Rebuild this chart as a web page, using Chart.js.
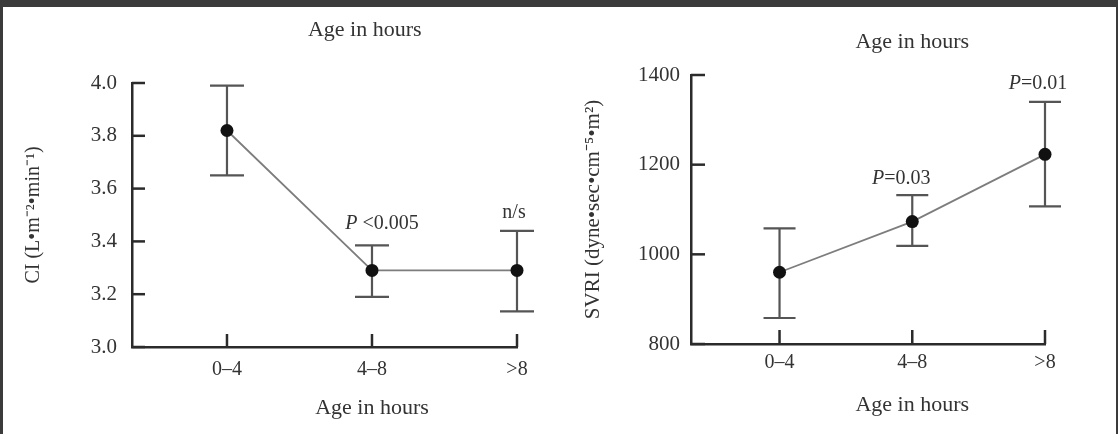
<!DOCTYPE html>
<html><head><meta charset="utf-8">
<script src="https://cdn.jsdelivr.net/npm/chart.js@4"></script>
<style>
html,body{margin:0;padding:0;background:#fff;}
body{width:1118px;height:434px;position:relative;overflow:hidden;}
#c1{position:absolute;left:0;top:0;}
#c2{position:absolute;left:560px;top:0;}
.bd{position:absolute;background:#3b3b3b;}
</style></head><body>
<canvas id="c1" width="560" height="434"></canvas>
<canvas id="c2" width="558" height="434"></canvas>
<div class="bd" style="left:0;top:0;width:1118px;height:7px"></div>
<div class="bd" style="left:0;top:0;width:3px;height:434px"></div>
<div class="bd" style="right:0;top:0;width:2px;height:434px"></div>
<script>
const categories = ['0–4', '4–8', '>8'];

const ciMean  = [3.82, 3.29, 3.29];
const ciUpper = [3.99, 3.385, 3.44];
const ciLower = [3.65, 3.19, 3.135];
const ciTicks = [3.0, 3.2, 3.4, 3.6, 3.8, 4.0];
const ciNotes = ['', 'P <0.005', 'n/s'];

const svriMean  = [960, 1073, 1223];
const svriUpper = [1058, 1132, 1340];
const svriLower = [858, 1019, 1107];
const svriTicks = [800, 1000, 1200, 1400];
const svriNotes = ['', 'P=0.03', 'P=0.01'];

const xTitle = 'Age in hours';
const ciTitle = 'CI (L•m⁻²•min⁻¹)';
const svriTitle = 'SVRI (dyne•sec•cm⁻⁵•m²)';

const FONT = "'Liberation Serif', 'Times New Roman', serif";
const AXIS = '#2b2b2b';
const TXT = '#333';

function decor(cfg) {
  const {upper, lower, notes, noteOff, tickLen, capHalf} = cfg;
  return {
    id: 'decor',
    beforeDatasetsDraw(chart) {
      const {ctx, scales: {x, y}} = chart;
      ctx.save();
      ctx.strokeStyle = AXIS; ctx.lineWidth = 2.5; ctx.lineCap = 'butt';
      y.ticks.forEach(t => {
        const py = y.getPixelForValue(t.value);
        ctx.beginPath(); ctx.moveTo(x.left, py); ctx.lineTo(x.left + tickLen, py); ctx.stroke();
      });
      x.ticks.forEach(t => {
        const px = x.getPixelForValue(t.value);
        ctx.beginPath(); ctx.moveTo(px, y.bottom); ctx.lineTo(px, y.bottom - tickLen); ctx.stroke();
      });
      ctx.strokeStyle = '#555'; ctx.lineWidth = 2.2;
      upper.forEach((u, i) => {
        const px = x.getPixelForValue(i), pu = y.getPixelForValue(u), pl = y.getPixelForValue(lower[i]);
        ctx.beginPath();
        ctx.moveTo(px, pu); ctx.lineTo(px, pl);
        ctx.moveTo(px - capHalf, pu); ctx.lineTo(px + capHalf, pu);
        ctx.moveTo(px - capHalf, pl); ctx.lineTo(px + capHalf, pl);
        ctx.stroke();
      });
      ctx.restore();
    },
    afterDatasetsDraw(chart) {
      const {ctx, scales: {x, y}, chartArea} = chart;
      ctx.save();
      ctx.fillStyle = TXT; ctx.textBaseline = 'middle'; ctx.textAlign = 'left';
      notes.forEach((n, i) => {
        if (!n) return;
        const cx = x.getPixelForValue(i) + noteOff[i].dx;
        const cy = y.getPixelForValue(upper[i]) - noteOff[i].dy;
        let pre = '', rest = n;
        if (n[0] === 'P') { pre = 'P'; rest = n.slice(1); }
        ctx.font = 'italic 20px ' + FONT;
        const w1 = ctx.measureText(pre).width;
        ctx.font = '20px ' + FONT;
        const w2 = ctx.measureText(rest).width;
        const sx = cx - (w1 + w2) / 2;
        ctx.font = 'italic 20px ' + FONT;
        ctx.fillText(pre, sx, cy);
        ctx.font = '20px ' + FONT;
        ctx.fillText(rest, sx + w1, cy);
      });
      // axis titles "Age in hours" (top and bottom)
      ctx.textAlign = 'center';
      ctx.font = '22px ' + FONT;
      ctx.fillText(xTitle, x.getPixelForValue(cfg.topTitleAt), chartArea.top - cfg.topTitleGap);
      ctx.fillText(xTitle, x.getPixelForValue(cfg.botTitleAt), chartArea.bottom + cfg.botTitleGap);
      ctx.restore();
    }
  };
}

function makeChart(id, cfg) {
  return new Chart(document.getElementById(id), {
    type: 'line',
    data: {
      datasets: [{
        data: cfg.mean.map((v, i) => ({x: i, y: v})),
        borderColor: '#7d7d7d', borderWidth: 1.8,
        pointRadius: 6.5, pointHoverRadius: 6.5,
        pointBackgroundColor: '#111', pointBorderColor: '#111', pointBorderWidth: 0,
        tension: 0, clip: false
      }]
    },
    options: {
      responsive: false, animation: false, events: [],
      layout: {padding: {left: 0, right: cfg.padRight, top: cfg.padTop, bottom: 0}},
      plugins: {legend: {display: false}, tooltip: {enabled: false}, title: {display: false}},
      scales: {
        x: {
          type: 'linear', min: cfg.xMin, max: 2,
          afterBuildTicks: s => { s.ticks = categories.map((c, i) => ({value: i})); },
          afterFit: s => { s.height = cfg.xHeight; },
          grid: {display: false, drawTicks: false},
          border: {display: true, color: AXIS, width: 2.5},
          ticks: {padding: cfg.xTickPad, color: TXT, font: {family: FONT, size: 20},
            callback: v => categories[v] ?? ''}
        },
        y: {
          min: cfg.yMin, max: cfg.yMax,
          afterBuildTicks: s => { s.ticks = cfg.ticks.map(v => ({value: v})); },
          afterFit: s => { s.width = cfg.yWidth; },
          grid: {display: false, drawTicks: false},
          border: {display: true, color: AXIS, width: 2.5},
          ticks: {padding: cfg.yTickPad, color: TXT, font: {family: FONT, size: 21},
            callback: cfg.fmt},
          title: {display: true, text: cfg.yTitle, color: TXT,
            font: {family: FONT, size: cfg.yTitleSize}, padding: {top: cfg.yTitleTop, bottom: 0}}
        }
      }
    },
    plugins: [decor(cfg)]
  });
}

makeChart('c1', {
  mean: ciMean, upper: ciUpper, lower: ciLower, notes: ciNotes, ticks: ciTicks,
  yMin: 3.0, yMax: 4.0, fmt: v => Number(v).toFixed(1), yTitle: ciTitle, yTitleSize: 20,
  xMin: -0.655, padRight: 43, padTop: 83,
  xHeight: 87, xTickPad: 11,
  yWidth: 132, yTickPad: 15, yTitleTop: 22,
  topTitleAt: 0.95, topTitleGap: 53, botTitleAt: 1, botTitleGap: 61,
  noteOff: [null, {dx: 10, dy: 22}, {dx: -3, dy: 18}], tickLen: 13, capHalf: 17
});

makeChart('c2', {
  mean: svriMean, upper: svriUpper, lower: svriLower, notes: svriNotes, ticks: svriTicks,
  yMin: 800, yMax: 1400, fmt: v => String(v), yTitle: svriTitle, yTitleSize: 21,
  xMin: -0.667, padRight: 73, padTop: 75,
  xHeight: 90, xTickPad: 7,
  yWidth: 131, yTickPad: 11, yTitleTop: 21,
  topTitleAt: 1, topTitleGap: 33, botTitleAt: 1, botTitleGap: 61,
  noteOff: [null, {dx: -11, dy: 16}, {dx: -7, dy: 18}], tickLen: 14, capHalf: 16
});
</script>
</body></html>
